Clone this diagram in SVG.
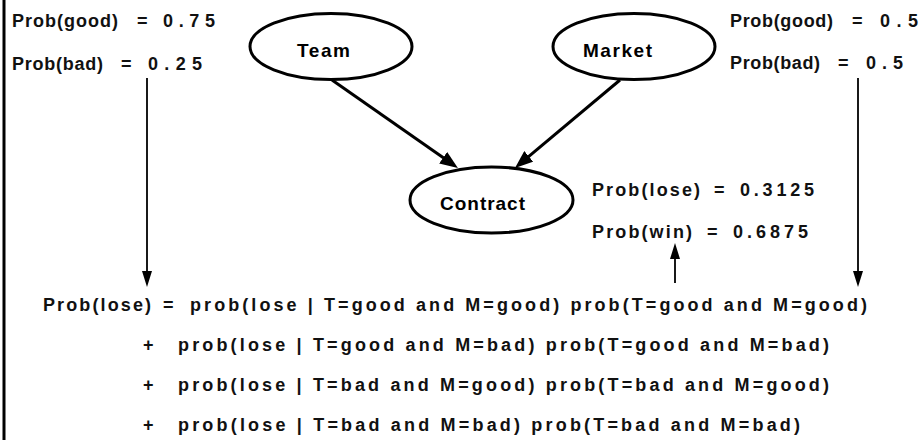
<svg xmlns="http://www.w3.org/2000/svg" width="924" height="440" viewBox="0 0 924 440">
<defs>
<style>
.t{font-family:"Liberation Sans",Arial,sans-serif;font-weight:bold;font-size:18px;fill:#111}
.l{font-family:"Liberation Sans",Arial,sans-serif;font-weight:bold;font-size:19px;fill:#000}
.n{fill:#fff;stroke:#000;stroke-width:3}
.e{stroke:#000;stroke-width:3;fill:none}
.v{stroke:#000;stroke-width:1.8;fill:none}
</style>
<marker id="ah" markerUnits="userSpaceOnUse" markerWidth="18" markerHeight="14" refX="12" refY="7" orient="auto"><path d="M0,0 L18,7 L0,14 z" fill="#000"/></marker>
<marker id="vh" markerUnits="userSpaceOnUse" markerWidth="16" markerHeight="10" refX="13" refY="5" orient="auto"><path d="M0,0 L16,5 L0,10 z" fill="#000"/></marker>
</defs>
<rect width="924" height="440" fill="#fff"/>
<line x1="4" y1="0" x2="4" y2="440" stroke="#000" stroke-width="3"/>
<g id="connectors">
<line class="e" x1="332" y1="80" x2="453" y2="164.6" marker-end="url(#ah)"/>
<line class="e" x1="620" y1="80" x2="519.6" y2="164.1" marker-end="url(#ah)"/>
<line class="v" x1="147" y1="78" x2="147" y2="284" marker-end="url(#vh)"/>
<line class="v" x1="858" y1="78" x2="858" y2="284" marker-end="url(#vh)"/>
<line class="v" x1="675" y1="283" x2="675" y2="246" marker-end="url(#vh)"/>
</g>
<g id="team">
<ellipse class="n" cx="331" cy="46.5" rx="81" ry="33"/>
<text class="l" x="297" y="57" textLength="53" lengthAdjust="spacing">Team</text>
</g>
<g id="market">
<ellipse class="n" cx="634" cy="46.5" rx="81" ry="33"/>
<text class="l" x="583" y="57" textLength="69" lengthAdjust="spacing">Market</text>
</g>
<g id="contract">
<ellipse class="n" cx="491.5" cy="200" rx="81.5" ry="33"/>
<text class="l" x="440" y="210" textLength="85" lengthAdjust="spacing">Contract</text>
</g>
<g id="labels">
<text class="t" y="27"><tspan x="12" textLength="106" lengthAdjust="spacing">Prob(good)</tspan><tspan x="137">=</tspan><tspan x="163" textLength="52" lengthAdjust="spacing">0.75</tspan></text>
<text class="t" y="70"><tspan x="12" textLength="91" lengthAdjust="spacing">Prob(bad)</tspan><tspan x="121">=</tspan><tspan x="148" textLength="54" lengthAdjust="spacing">0.25</tspan></text>
<text class="t" y="27"><tspan x="730" textLength="103" lengthAdjust="spacing">Prob(good)</tspan><tspan x="852">=</tspan><tspan x="880" textLength="38" lengthAdjust="spacing">0.5</tspan></text>
<text class="t" y="69"><tspan x="730" textLength="90" lengthAdjust="spacing">Prob(bad)</tspan><tspan x="838">=</tspan><tspan x="866" textLength="37" lengthAdjust="spacing">0.5</tspan></text>
<text class="t" y="196"><tspan x="592" textLength="108" lengthAdjust="spacing">Prob(lose)</tspan><tspan x="714">=</tspan><tspan x="740" textLength="74" lengthAdjust="spacing">0.3125</tspan></text>
<text class="t" y="238"><tspan x="592" textLength="100" lengthAdjust="spacing">Prob(win)</tspan><tspan x="707">=</tspan><tspan x="733" textLength="75" lengthAdjust="spacing">0.6875</tspan></text>
</g>
<g id="formula">
<text class="t" y="311"><tspan x="43" textLength="108" lengthAdjust="spacing">Prob(lose)</tspan><tspan x="163">=</tspan><tspan x="190" textLength="677" lengthAdjust="spacing">prob(lose | T=good and M=good) prob(T=good and M=good)</tspan></text>
<text class="t" y="351"><tspan x="143">+</tspan><tspan x="178" textLength="651" lengthAdjust="spacing">prob(lose | T=good and M=bad) prob(T=good and M=bad)</tspan></text>
<text class="t" y="391"><tspan x="143">+</tspan><tspan x="178" textLength="651" lengthAdjust="spacing">prob(lose | T=bad and M=good) prob(T=bad and M=good)</tspan></text>
<text class="t" y="431"><tspan x="143">+</tspan><tspan x="178" textLength="622" lengthAdjust="spacing">prob(lose | T=bad and M=bad) prob(T=bad and M=bad)</tspan></text>
</g>
</svg>
